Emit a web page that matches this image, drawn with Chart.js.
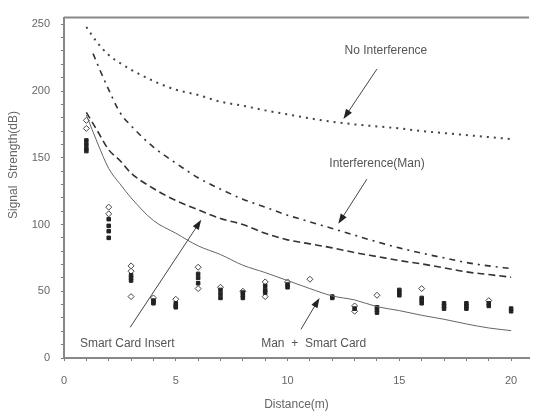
<!DOCTYPE html>
<html>
<head>
<meta charset="utf-8">
<script src="https://cdn.jsdelivr.net/npm/chart.js@4.4.1/dist/chart.umd.min.js"></script>
<style>
html, body { margin: 0; padding: 0; background: #fff; }
</style>
</head>
<body>
<canvas id="chartSignal" width="534" height="416"></canvas>
<script>
// distances used by the fitted curves
var curveDist = [1, 1.5, 2, 2.5, 3, 4, 5, 6, 7, 8, 9, 10, 11, 12, 13, 14, 15, 16, 17, 18, 19, 20];
var noInterference = [248, 236, 227, 221, 216, 207.5, 201, 197, 192, 189, 185.5, 182.5, 179.5, 177, 175, 173.5, 172, 170, 168.5, 167, 165.5, 164];
var smartCardInsert = [184, 170, 156, 148, 138.5, 127, 118, 111, 104.5, 100, 93.5, 88.5, 85.5, 82.5, 79, 76, 73, 70.5, 67.5, 64.5, 62.5, 60.5];
var manSmartCard = [182, 161, 142, 130.5, 120, 103, 93.5, 84, 77.5, 69.5, 64, 58, 52, 46.5, 43.5, 38.5, 35.5, 32, 29, 25.5, 22.5, 20.5];

// the man interference curve starts a bit later
var manDist = [1.3, 1.6, 2, 2.5, 3, 4, 5, 6, 7, 8, 9, 10, 11, 12, 13, 14, 15, 16, 17, 18, 19, 20];
var interferenceMan = [228, 216, 201, 184, 174, 158, 146, 135, 126.5, 119, 113, 107, 102, 97, 92, 87, 82.5, 78.5, 75, 71.5, 69, 67];

// measured points (filled markers)
var measFilledX = [1, 1, 1, 1, 2, 2, 2, 2, 3, 3, 3, 4, 4, 4, 5, 5, 5, 6, 6, 6, 7, 7, 7, 8, 8, 8, 9, 9, 9, 10, 10, 12, 12, 13, 14, 14, 14, 15, 15, 15, 16, 16, 16, 17, 17, 17, 18, 18, 18, 19, 19, 20, 20];
var measFilledY = [163, 160, 157, 155, 104, 99, 95, 90, 62, 60, 58, 43, 42, 41, 41, 39, 38, 63, 60, 56, 51, 48, 45, 49, 47, 45, 54, 51, 49, 55, 53, 46, 45, 37, 38, 36, 34, 51, 49, 47, 45, 43, 41, 41, 39, 37, 41, 39, 37, 41, 39, 37, 35];

// measured points (hollow markers)
var measHollowX = [1, 1, 2, 2, 3, 3, 3, 4, 5, 6, 6, 7, 8, 9, 9, 10, 11, 13, 13, 14, 16, 19];
var measHollowY = [178, 172, 113, 108, 69, 65, 46, 45, 44, 68, 52, 53, 50, 57, 46, 57, 59, 39, 35, 47, 52, 43];

// annotation labels: text, text position, arrow start, arrow tip (data units)
var notes = [
    { text: 'No Interference', tx: 14.4, ty: 230, ax: 14.0, ay: 216.5, bx: 12.5, by: 179 },
    { text: 'Interference(Man)', tx: 14.0, ty: 145.5, ax: 13.55, ay: 134, bx: 12.27, by: 100.5 },
    { text: 'Smart Card Insert', tx: 2.83, ty: 11, ax: 2.96, ay: 23, bx: 6.14, by: 103.5 },
    { text: 'Man  +  Smart Card', tx: 11.17, ty: 11, ax: 10.6, ay: 21.5, bx: 11.43, by: 45 }
];

function pares(xs, ys) {
    return xs.map(function (x, i) { return { x: x, y: ys[i] }; });
}

var fuente = { family: 'Liberation Sans', size: 11 };
var fuenteTitulo = { family: 'Liberation Sans', size: 12 };

var notasPlugin = {
    id: 'notas',
    afterDraw: function (chart) {
        var ctx = chart.ctx, xs = chart.scales.x, ys = chart.scales.y, area = chart.chartArea;
        ctx.save();
        // top frame line
        ctx.strokeStyle = '#888';
        ctx.lineWidth = 2;
        ctx.beginPath();
        ctx.moveTo(area.left, area.top);
        ctx.lineTo(area.right, area.top);
        ctx.stroke();

        // y title, a bit above the middle like the original
        ctx.save();
        ctx.translate(14, 165);
        ctx.rotate(-Math.PI / 2);
        ctx.font = '12px "Liberation Sans"';
        ctx.fillStyle = '#666';
        ctx.textAlign = 'center';
        ctx.textBaseline = 'middle';
        ctx.fillText('Signal  Strength(dB)', 0, 0);
        ctx.restore();

        ctx.font = '12px "Liberation Sans"';
        ctx.fillStyle = '#555';
        ctx.textAlign = 'center';
        ctx.textBaseline = 'middle';
        notes.forEach(function (n) {
            ctx.fillText(n.text, xs.getPixelForValue(n.tx), ys.getPixelForValue(n.ty));
            var x1 = xs.getPixelForValue(n.ax), y1 = ys.getPixelForValue(n.ay);
            var x2 = xs.getPixelForValue(n.bx), y2 = ys.getPixelForValue(n.by);
            var ang = Math.atan2(y2 - y1, x2 - x1);
            ctx.strokeStyle = '#444';
            ctx.lineWidth = 1;
            ctx.beginPath();
            ctx.moveTo(x1, y1);
            ctx.lineTo(x2 - 6 * Math.cos(ang), y2 - 6 * Math.sin(ang));
            ctx.stroke();
            ctx.fillStyle = '#222';
            ctx.beginPath();
            ctx.moveTo(x2, y2);
            ctx.lineTo(x2 - 10 * Math.cos(ang) + 3.5 * Math.sin(ang), y2 - 10 * Math.sin(ang) - 3.5 * Math.cos(ang));
            ctx.lineTo(x2 - 10 * Math.cos(ang) - 3.5 * Math.sin(ang), y2 - 10 * Math.sin(ang) + 3.5 * Math.cos(ang));
            ctx.closePath();
            ctx.fill();
            ctx.fillStyle = '#555';
        });
        ctx.restore();
    }
};

var ctx = document.getElementById('chartSignal');

var myChart = new Chart(ctx, {
    type: 'line',
    data: {
        datasets: [
            {
                label: 'No Interference',
                data: pares(curveDist, noInterference),
                borderColor: '#444',
                borderWidth: 2,
                borderDash: [2, 5],
                pointRadius: 0,
                cubicInterpolationMode: 'monotone'
            },
            {
                label: 'Interference(Man)',
                data: pares(manDist, interferenceMan),
                borderColor: '#333',
                borderWidth: 1.6,
                borderDash: [6, 5, 2, 5],
                pointRadius: 0,
                cubicInterpolationMode: 'monotone'
            },
            {
                label: 'Smart Card Insert',
                data: pares(curveDist, smartCardInsert),
                borderColor: '#333',
                borderWidth: 1.6,
                borderDash: [7, 4],
                pointRadius: 0,
                cubicInterpolationMode: 'monotone'
            },
            {
                label: 'Man + Smart Card',
                data: pares(curveDist, manSmartCard),
                borderColor: '#666',
                borderWidth: 1,
                pointRadius: 0,
                cubicInterpolationMode: 'monotone'
            },
            {
                type: 'scatter',
                label: 'medido',
                data: pares(measFilledX, measFilledY),
                pointStyle: 'rect',
                pointRadius: 2.5,
                backgroundColor: '#222',
                borderColor: '#222',
                borderWidth: 1,
                showLine: false
            },
            {
                type: 'scatter',
                label: 'medido2',
                data: pares(measHollowX, measHollowY),
                pointStyle: 'rectRot',
                pointRadius: 3,
                backgroundColor: '#fff',
                borderColor: '#444',
                borderWidth: 1,
                showLine: false
            }
        ]
    },
    options: {
        responsive: false,
        animation: false,
        layout: { padding: { top: 14, right: 0, left: 0, bottom: 0 } },
        plugins: {
            legend: { display: false },
            tooltip: { enabled: false }
        },
        scales: {
            x: {
                type: 'linear',
                min: 0,
                max: 20.8,
                afterFit: function (s) { s.height = 58; },
                ticks: {
                    stepSize: 1,
                    includeBounds: false,
                    autoSkip: false,
                    maxRotation: 0,
                    padding: 13,
                    color: '#666',
                    font: fuente,
                    callback: function (v) { return v % 5 === 0 ? v : ''; }
                },
                grid: { drawOnChartArea: false, tickLength: 3, color: '#777' },
                border: { color: '#888', width: 2 },
                title: {
                    display: true,
                    text: 'Distance(m)',
                    color: '#666',
                    font: fuenteTitulo,
                    padding: { top: 0, bottom: 4 }
                }
            },
            y: {
                min: 0,
                max: 255,
                afterFit: function (s) { s.width = 64; },
                ticks: {
                    stepSize: 10,
                    includeBounds: false,
                    autoSkip: false,
                    padding: 11,
                    color: '#666',
                    font: fuente,
                    callback: function (v) { return v % 50 === 0 ? v : ''; }
                },
                grid: { drawOnChartArea: false, tickLength: 3, color: '#777' },
                border: { color: '#888', width: 2 }
            }
        }
    },
    plugins: [notasPlugin]
});
</script>
</body>
</html>
